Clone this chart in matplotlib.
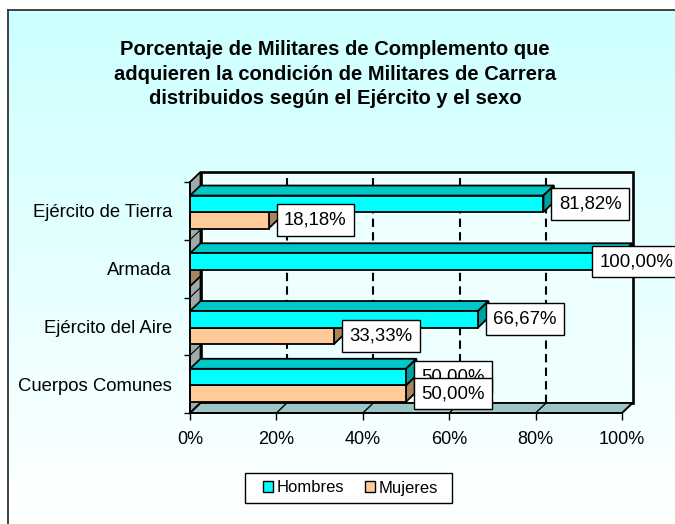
import numpy as np
import matplotlib
matplotlib.use("Agg")
import matplotlib.pyplot as plt
from matplotlib.patches import Polygon, Patch, Rectangle
from matplotlib.colors import LinearSegmentedColormap

plt.rcParams['font.family'] = ['Liberation Sans', 'DejaVu Sans']

# ---------------- data ----------------
categories = ["Cuerpos Comunes", "Ejército del Aire", "Armada", "Ejército de Tierra"]
hombres = [50.00, 66.67, 100.00, 81.82]
mujeres = [50.00, 33.33, 0.00, 18.18]
xticks = [0, 20, 40, 60, 80, 100]
xticklabels = ["0%", "20%", "40%", "60%", "80%", "100%"]
series_names = ["Hombres", "Mujeres"]
title = ("Porcentaje de Militares de Complemento que\n"
         "adquieren la condición de Militares de Carrera\n"
         "distribuidos según el Ejército y el sexo")

W, H = 675, 524
DPI = 100
PT = 72 / DPI  # points per pixel
fig = plt.figure(figsize=(W / DPI, H / DPI), dpi=DPI)
fig.patch.set_facecolor("white")

# ---------------- background (gradient chart area) ----------------
bg = fig.add_axes([8 / W, 0, 1 - 8 / W, 1 - 10 / H], zorder=-10)
cmap = LinearSegmentedColormap.from_list("bgc", ["#CCFFFF", "#FFFFFF"])
bg.imshow(np.linspace(0, 1, 256).reshape(-1, 1), aspect="auto", cmap=cmap,
          extent=[0, 1, 0, 1], origin="upper")
bg.set_xlim(0, 1); bg.set_ylim(0, 1)
bg.set_xticks([]); bg.set_yticks([])
for s in ["right", "bottom"]:
    bg.spines[s].set_visible(False)
for s in ["left", "top"]:
    bg.spines[s].set_linewidth(1.3)
    bg.spines[s].set_color("#333333")

# ---------------- main axes (front plane) ----------------
x0px, x1px = 190, 622
ytop, ybot = 182, 413
ax = fig.add_axes([x0px / W, (H - ybot) / H, (x1px - x0px) / W, (ybot - ytop) / H])
ax.set_facecolor("none")
ax.set_xlim(0, 100)
ax.set_ylim(-0.5, 3.5)

XPX = 100 / (x1px - x0px)
YPX = 4 / (ybot - ytop)
DX = 10.5 * XPX
DY = 10 * YPX

lw = 1.3
# left wall
ax.add_patch(Polygon([(0, -0.5), (0, 3.5), (DX, 3.5 + DY), (DX, -0.5 + DY)],
                     closed=True, facecolor="#9FABAB", edgecolor="black", lw=lw,
                     clip_on=False, zorder=1))
# back wall
ax.add_patch(Polygon([(DX, -0.5 + DY), (DX, 3.5 + DY), (100 + DX, 3.5 + DY), (100 + DX, -0.5 + DY)],
                     closed=True, facecolor="#EEFFFF", edgecolor="black", lw=lw + 0.6,
                     clip_on=False, zorder=0.5))
# floor
ax.add_patch(Polygon([(0, -0.5), (100, -0.5), (100 + DX, -0.5 + DY), (DX, -0.5 + DY)],
                     closed=True, facecolor="#9CC6C6", edgecolor="black", lw=lw,
                     clip_on=False, zorder=1))
# gridlines on back wall + floor lines
for t in xticks:
    ax.plot([t, t + DX], [-0.5, -0.5 + DY], color="black", lw=1.0, clip_on=False, zorder=1.2)
    if 0 < t < 100:
        ax.plot([t + DX, t + DX], [-0.5 + DY, 3.5 + DY], color="black", lw=1.5,
                ls=(0, (4, 2.5)), clip_on=False, zorder=1.1)
# left wall category lines
for b in [0.5, 1.5, 2.5]:
    ax.plot([0, DX], [b, b + DY], color="black", lw=0.8, clip_on=False, zorder=1.2)

# ---------------- 3D bars ----------------
bh = 16.5 * YPX
cols = {
    "Hombres": ("#00FFFF", "#00C8C8", "#00A0A0"),
    "Mujeres": ("#FFCC99", "#D9AE82", "#A8845E"),
}


def bar3d(y0, v, colset, z):
    front, top, side = colset
    y1 = y0 + bh
    ax.add_patch(Polygon([(0, y1), (v, y1), (v + DX, y1 + DY), (DX, y1 + DY)], closed=True,
                         facecolor=top, edgecolor="black", lw=lw, clip_on=False, zorder=z))
    ax.add_patch(Polygon([(v, y0), (v, y1), (v + DX, y1 + DY), (v + DX, y0 + DY)], closed=True,
                         facecolor=side, edgecolor="black", lw=lw, clip_on=False, zorder=z))
    ax.barh(y0, v, height=bh, left=0, align="edge", color=front, edgecolor="black",
            lw=lw, clip_on=False, zorder=z + 0.1)


ypos = np.arange(len(categories))
for i, c in enumerate(categories):
    c0 = ypos[i] - 0.02
    bar3d(c0 - bh, mujeres[i], cols["Mujeres"], 2 + i * 0.5)
    bar3d(c0, hombres[i], cols["Hombres"], 2.2 + i * 0.5)

# ---------------- data labels ----------------
fs_lab = 13.4
pad = 0.4
pad_px = pad * fs_lab / PT


def label(v, y, z):
    if v <= 0:
        return
    box_off_px = 8 if v < 100 else -30
    off = (box_off_px + pad_px) * PT
    ax.annotate(f"{v:.2f}%".replace(".", ","), xy=(v, y), xytext=(off, 0),
                textcoords="offset points", ha="left", va="center", fontsize=fs_lab,
                bbox=dict(boxstyle=f"square,pad={pad}", fc="white", ec="black", lw=1.0),
                zorder=z, annotation_clip=False)


for i in range(len(categories)):
    c0 = ypos[i] - 0.02
    label(hombres[i], c0 + bh / 2, 10 + i)
for i in range(len(categories)):
    c0 = ypos[i] - 0.02
    label(mujeres[i], c0 - bh / 2, 20 + i)

# ---------------- axes / ticks ----------------
for s in ["top", "right"]:
    ax.spines[s].set_visible(False)
for s in ["left", "bottom"]:
    ax.spines[s].set_linewidth(lw)
    ax.spines[s].set_zorder(5)
ax.set_xticks(xticks)
ax.set_xticklabels(xticklabels, fontsize=13)
ax.tick_params(axis="x", direction="out", length=5, width=1.0, pad=8)
ax.set_yticks(ypos)
ax.set_yticklabels(categories, fontsize=13.3)
ax.tick_params(axis="y", which="major", length=0, pad=13)
ax.set_yticks([-0.5, 0.5, 1.5, 2.5, 3.5], minor=True)
ax.tick_params(axis="y", which="minor", direction="out", length=4, width=1.0)

# ---------------- title ----------------
fig.text(335 / W, 1 - 74 / H, title, ha="center", va="center", fontsize=14.5,
         fontweight="bold", linespacing=1.36)

# ---------------- legend ----------------
fig.add_artist(Rectangle((245 / W, 1 - 503 / H), (452 - 245) / W, 30 / H,
                         transform=fig.transFigure, fc="white", ec="black", lw=1.0, zorder=3))
handles = [Patch(facecolor=cols[n][0], edgecolor="black", lw=1.0) for n in series_names]
leg = fig.legend(handles, series_names, loc="center", bbox_to_anchor=(350.5 / W, 1 - 488 / H),
                 ncol=2, fontsize=12, frameon=False,
                 handlelength=0.6, handleheight=0.6, handletextpad=0.2, columnspacing=1.3,
                 borderpad=0.2)
leg.set_zorder(4)

fig.savefig("out.png", dpi=DPI)
